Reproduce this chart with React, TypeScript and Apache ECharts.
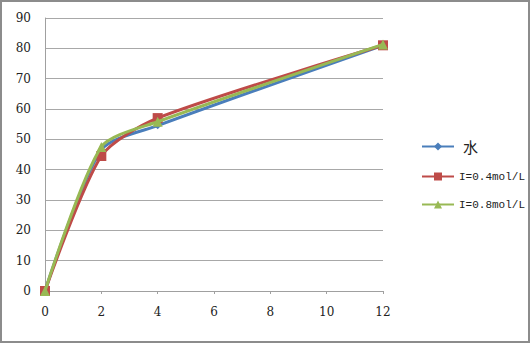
import React, { useEffect, useRef } from "react";
import * as echarts from "echarts";

const xValues = [0, 2, 4, 12];
const seriesNames = ["水", "I=0.4mol/L", "I=0.8mol/L"];
const waterValues = [0, 46.5, 54.5, 81];
const ionic04Values = [0, 44.5, 57, 81];
const ionic08Values = [0, 47.5, 55.8, 81.3];
const xTicks = [0, 2, 4, 6, 8, 10, 12];
const yTicks = [0, 10, 20, 30, 40, 50, 60, 70, 80, 90];

const colors = ["#4A7EBB", "#BE4B48", "#98B954"];
const symbols = ["diamond", "rect", "triangle"];
const symbolSizes = [7, 10, 10];

export default function App() {
  const ref = useRef<HTMLDivElement>(null);
  useEffect(() => {
    if (!ref.current) return;
    const chart = echarts.init(ref.current, null, { renderer: "svg" });
    const valuesList = [waterValues, ionic04Values, ionic08Values];
    const font = "DejaVu Serif";
    chart.setOption({
      animation: false,
      backgroundColor: "transparent",
      grid: { left: 45, top: 18, width: 338, height: 273, containLabel: false },
      xAxis: {
        type: "value",
        min: xTicks[0],
        max: xTicks[xTicks.length - 1],
        interval: 2,
        axisLine: { show: true, lineStyle: { color: "#A0A0A0", width: 1 } },
        axisTick: { show: true, length: 3, lineStyle: { color: "#A0A0A0" } },
        axisLabel: { color: "#222", fontFamily: font, fontSize: 12, margin: 15 },
        splitLine: { show: false },
      },
      yAxis: {
        type: "value",
        min: yTicks[0],
        max: yTicks[yTicks.length - 1],
        interval: 10,
        axisLine: { show: true, lineStyle: { color: "#A0A0A0", width: 1 } },
        axisTick: { show: false },
        axisLabel: { color: "#222", fontFamily: font, fontSize: 12, margin: 14 },
        splitLine: { show: true, lineStyle: { color: "#A8A8A8", width: 1 } },
      },
      legend: {
        orient: "vertical",
        left: 416,
        top: 134,
        itemWidth: 32,
        itemHeight: 10,
        itemGap: 17,
        data: seriesNames,
        textStyle: {
          fontFamily: "Liberation Mono",
          fontSize: 11,
          color: "#222",
          rich: {
            cjk: { fontFamily: "Noto Sans CJK SC", fontSize: 15, color: "#222", padding: [0, 0, 0, 4] },
          },
        },
        formatter: (name: string) => (name === "水" ? `{cjk|${name}}` : name),
      },
      series: seriesNames.map((name, i) => ({
        name,
        type: "line",
        smooth: 0.25,
        data: xValues.map((x, j) => [x, valuesList[i][j]]),
        symbol: symbols[i],
        symbolSize: symbolSizes[i],
        showSymbol: true,
        lineStyle: { color: colors[i], width: 3 },
        itemStyle: { color: colors[i] },
        z: 2 + i,
      })),
    });
    return () => chart.dispose();
  }, []);
  return (
    <div
      style={{
        position: "fixed",
        left: 0,
        top: 0,
        width: 530,
        height: 343,
        background: "#fff",
      }}
    >
      <div ref={ref} style={{ position: "absolute", left: 0, top: 0, width: 530, height: 343 }} />
      <div
        style={{
          position: "absolute",
          left: 0,
          top: 0,
          width: 530,
          height: 343,
          boxSizing: "border-box",
          border: "2px solid #8C8C8C",
          pointerEvents: "none",
        }}
      />
    </div>
  );
}
